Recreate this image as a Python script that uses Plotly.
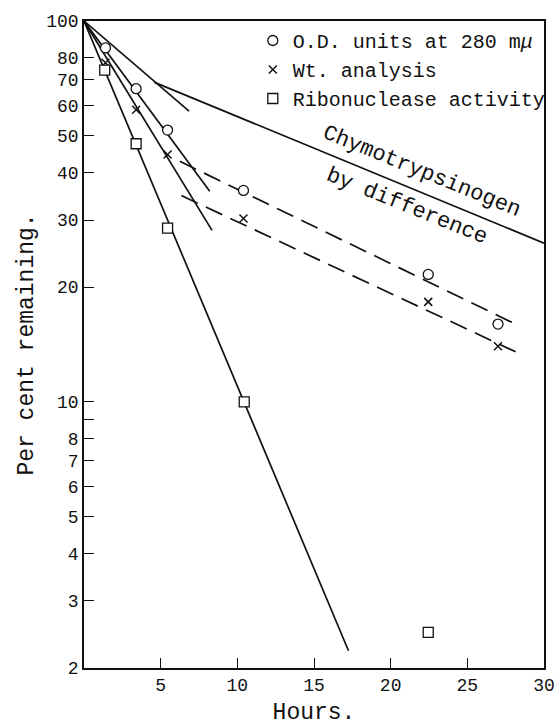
import math
import plotly.graph_objects as go

# Sampling times (hours) and per cent remaining for each assay
hours = [1.4, 3.4, 5.45, 10.4, 22.45, 27.0]
od_280 = [85.0, 66.4, 51.7, 35.9, 21.6, 16.0]
wt_analysis = [77.7, 58.5, 44.6, 30.3, 18.3, 14.0]
rnase_hours = [1.35, 3.4, 5.45, 10.45, 22.45]
rnase_activity = [74.3, 47.6, 28.6, 10.0, 2.48]

# Fitted straight lines (semi-log): end points in hours / per cent
od_fast_x, od_fast_y = [0, 8.2], [100, 35.7]
wt_fast_x, wt_fast_y = [0, 8.35], [100, 28.2]
rnase_fit_x, rnase_fit_y = [0, 17.25], [100, 2.22]
od_slow_x, od_slow_y = [6.25, 28.0], [42.8, 16.1]
wt_slow_x, wt_slow_y = [6.35, 28.2], [34.8, 13.5]
chymo_init_x, chymo_init_y = [0, 6.85], [100, 58.0]
chymo_x, chymo_y = [4.6, 30.0], [69.0, 26.1]

y_tickvals = [2, 3, 4, 5, 6, 7, 8, 9, 10, 20, 30, 40, 50, 60, 70, 80, 100]
y_ticktext = ["2", "3", "4", "5", "6", "7", "8", "", "10", "20", "30", "40",
              "50", "60", "70", "80", "100"]
x_tickvals = [5, 10, 15, 20, 25, 30]

FONT = "Liberation Mono"
INK = "#111111"

fig = go.Figure()

def fit_line(x, y, dash="solid"):
    fig.add_trace(go.Scatter(
        x=x, y=y, mode="lines", showlegend=False, hoverinfo="skip",
        line=dict(color=INK, width=1.7, dash=dash)))

fit_line(od_fast_x, od_fast_y)
fit_line(wt_fast_x, wt_fast_y)
fit_line(rnase_fit_x, rnase_fit_y)
fit_line(chymo_init_x, chymo_init_y)
fit_line(chymo_x, chymo_y)
fit_line(od_slow_x, od_slow_y, dash="18px,9px")
fit_line(wt_slow_x, wt_slow_y, dash="18px,9px")

fig.add_trace(go.Scatter(
    x=hours, y=od_280, mode="markers", name="O.D. units at 280 m<i>μ</i>",
    marker=dict(symbol="circle", size=10, color="white",
                line=dict(color=INK, width=1.3))))
fig.add_trace(go.Scatter(
    x=hours, y=wt_analysis, mode="markers", name="Wt. analysis",
    marker=dict(symbol="x-thin-open", size=8, color=INK,
                line=dict(color=INK, width=1.5))))
fig.add_trace(go.Scatter(
    x=rnase_hours, y=rnase_activity, mode="markers",
    name="Ribonuclease activity",
    marker=dict(symbol="square", size=10, color="white",
                line=dict(color=INK, width=1.3))))

# Label set along the chymotrypsinogen line (log axis: y given as log10)
fig.add_annotation(x=21.98, y=math.log10(40.2), text="Chymotrypsinogen",
                   showarrow=False, textangle=22,
                   font=dict(family=FONT, size=22, color=INK))
fig.add_annotation(x=21.05, y=math.log10(32.6), text="by difference",
                   showarrow=False, textangle=22,
                   font=dict(family=FONT, size=22, color=INK))

fig.update_layout(
    width=556, height=726,
    margin=dict(l=84, r=12, t=21, b=58, autoexpand=False),
    paper_bgcolor="white", plot_bgcolor="white",
    font=dict(family=FONT, color=INK),
    legend=dict(x=0.367, y=1.0, xanchor="left", yanchor="top",
                bgcolor="rgba(0,0,0,0)", font=dict(family=FONT, size=20),
                itemwidth=30),
)
fig.update_xaxes(
    range=[0, 30], tickvals=x_tickvals, ticks="inside", ticklen=10,
    tickwidth=1.3, tickcolor=INK, showline=True, linecolor=INK,
    linewidth=1.5, mirror=True, showgrid=False, zeroline=False,
    tickfont=dict(family=FONT, size=18),
    title=dict(text="Hours.", font=dict(family=FONT, size=23), standoff=8))
fig.update_yaxes(
    type="log", range=[0.30103, 2.0], tickvals=y_tickvals,
    ticktext=y_ticktext, ticks="inside", ticklen=10, tickwidth=1.3,
    tickcolor=INK, showline=True, linecolor=INK, linewidth=1.5, mirror=True,
    showgrid=False, zeroline=False, tickfont=dict(family=FONT, size=18),
    title=dict(text="Per cent remaining.", font=dict(family=FONT, size=23),
               standoff=6))

fig.write_html("out.html")
